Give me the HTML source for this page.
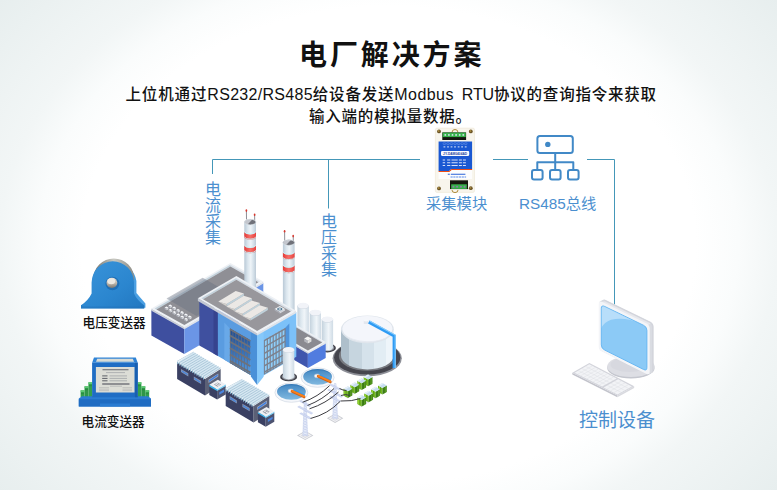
<!DOCTYPE html>
<html lang="zh-CN">
<head>
<meta charset="utf-8">
<title>电厂解决方案</title>
<style>
html,body{margin:0;padding:0;}
body{width:777px;height:490px;overflow:hidden;position:relative;
  font-family:"Liberation Sans","Noto Sans CJK SC",sans-serif;
  background:radial-gradient(ellipse 388.5px 302px at 50% 50%, #ffffff 79%, #fafcfc 90%, #f2f6f6 100%, #e7eeee 129%);}
.abs{position:absolute;white-space:nowrap;}
#title{left:299px;top:36px;font-size:28px;font-weight:700;color:#111;letter-spacing:2.9px;line-height:40px;}
.sub{font-size:15.5px;font-weight:500;color:#111;line-height:22px;letter-spacing:.78px;}
#sub .c1{letter-spacing:.87px;}
#sub .l1{font-size:16px;letter-spacing:.29px;}
#sub .m{font-size:16px;letter-spacing:.45px;}
#sub .sp{letter-spacing:3.6px;}
#sub .r{font-size:16px;letter-spacing:-.12px;}
.blue{color:#4b8fcf;}
.v{width:16px;text-align:center;font-size:16px;line-height:16.1px;white-space:normal;}
.lab{font-size:12.65px;font-weight:500;color:#111;}
svg{position:absolute;left:0;top:0;}
</style>
</head>
<body>
<div id="title" class="abs">电厂解决方案</div>
<div id="sub" class="abs sub" style="left:125.5px;top:84px;"><span id="s1" class="c1">上位机通过</span><span class="l1" id="s2">RS232/RS485</span><span id="s3">给设备发送</span><span class="m" id="s4">Modbus</span><span class="sp"> </span><span class="r" id="s5">RTU</span><span id="s6">协议的查询指令来获取</span></div>
<div id="sub2" class="abs sub" style="left:309px;top:106px;"><span id="s7">输入端的模拟量数据。</span></div>

<svg id="art" width="777" height="490" viewBox="0 0 777 490">
  <!-- connection lines -->
  <g fill="none" stroke="#4497b8" stroke-width="1">
    <path d="M212.5 174V159.5H420"/>
    <path d="M328.5 159.5V208.5"/>
    <path d="M493 159.5H528"/>
    <path d="M587 159.5H614.5V304.5"/>
  </g>
  <!-- bus icon -->
  <g fill="none" stroke="#4189c7" stroke-width="2" stroke-linejoin="round">
    <rect x="537.4" y="136" width="35.4" height="17" rx="2.5"/>
    <path d="M555.2 153V170M537.3 170V162.2H573.3V170"/>
    <rect x="532" y="170" width="10.6" height="9.6" rx="2"/>
    <rect x="550" y="170" width="10.6" height="9.6" rx="2"/>
    <rect x="568" y="170" width="10.6" height="9.6" rx="2"/>
  </g>
  <circle cx="547.8" cy="144.4" r="2.7" fill="#4088c6"/>
<defs>
<linearGradient id="gc" x1="0" x2="1" y1="0" y2="0"><stop offset="0" stop-color="#b9c9d6"/><stop offset=".3" stop-color="#dbe6ee"/><stop offset=".55" stop-color="#eef4f8"/><stop offset=".8" stop-color="#d3dfe8"/><stop offset="1" stop-color="#bccad6"/></linearGradient>
<linearGradient id="gt" x1="0" x2="1" y1="0" y2="0"><stop offset="0" stop-color="#c3d1dc"/><stop offset=".35" stop-color="#dfe9f0"/><stop offset=".6" stop-color="#f0f5f9"/><stop offset="1" stop-color="#cfdbe5"/></linearGradient>
<linearGradient id="gbig" x1="0" x2="1" y1="0" y2="0"><stop offset="0" stop-color="#aebfcb"/><stop offset=".16" stop-color="#aebfcb"/><stop offset=".16" stop-color="#c6d5df"/><stop offset=".4" stop-color="#c6d5df"/><stop offset=".4" stop-color="#d5e2eb"/><stop offset=".62" stop-color="#d5e2eb"/><stop offset=".62" stop-color="#e2edf4"/><stop offset=".85" stop-color="#e2edf4"/><stop offset=".85" stop-color="#eef5fa"/><stop offset="1" stop-color="#eef5fa"/></linearGradient>
<linearGradient id="gpool" x1="0" x2="0" y1="0" y2="1"><stop offset="0" stop-color="#4186c2"/><stop offset="1" stop-color="#80b8df"/></linearGradient>
<linearGradient id="gred" x1="0" x2="1" y1="0" y2="0"><stop offset="0" stop-color="#e63b37"/><stop offset=".5" stop-color="#f5706a"/><stop offset="1" stop-color="#e8423e"/></linearGradient>
<linearGradient id="gscr" x1="0" x2="1" y1="0" y2="1"><stop offset="0" stop-color="#8ecbf6"/><stop offset="1" stop-color="#86c5f4"/></linearGradient>
<linearGradient id="gwin" x1="0" x2="0" y1="0" y2="1"><stop offset="0" stop-color="#1f4a8c"/><stop offset=".5" stop-color="#3570b8"/><stop offset="1" stop-color="#5a9fe2"/></linearGradient>
</defs>
<g id="factory">
<polygon points="151.4,310.1 184.3,328.6 184.3,354.1 151.4,335.6" fill="#3e4f9f"/>
<polygon points="184.3,328.6 263.3,282.9 263.3,308.4 184.3,354.1" fill="#6b95e6"/>
<polygon points="151.4,308.6 184.3,327.1 184.3,329.3 151.4,310.8" fill="#c9ced8"/>
<polygon points="184.3,327.1 263.3,281.4 263.3,283.6 184.3,329.3" fill="#dfe3ea"/>
<polygon points="151.4,308.6 230.4,262.9 263.3,281.4 184.3,327.1" fill="#eef1f5"/>
<polygon points="154.7,308.5 230.4,264.7 230.4,266.6 156.4,309.4" fill="#c3d2dc"/>
<polygon points="230.4,264.7 260.0,281.4 258.4,282.3 230.4,266.6" fill="#d6dee6"/>
<polygon points="156.4,309.4 230.4,266.6 258.4,282.3 184.3,325.1" fill="#8f8f95"/>
<polygon points="200.3,317.6 216.0,288.0 247.0,274.0 232.0,266.0" fill="#a3a2a7" opacity=".0"/>
<polygon points="166.5,298.6 202.6,277.7 232.6,295.0 196.5,315.9" fill="#667080" opacity=".42"/>
<polygon points="164.6,307.6 166.5,306.5 168.4,307.6 166.5,308.7" fill="#f7f8fa"/>
<polygon points="164.6,307.6 166.5,308.7 166.5,310.3 164.6,309.2" fill="#aeb1ba"/>
<polygon points="166.5,308.7 168.4,307.6 168.4,309.2 166.5,310.3" fill="#d8dbe1"/>
<polygon points="168.5,309.9 170.4,308.8 172.3,309.9 170.4,311.0" fill="#f7f8fa"/>
<polygon points="168.5,309.9 170.4,311.0 170.4,312.6 168.5,311.5" fill="#aeb1ba"/>
<polygon points="170.4,311.0 172.3,309.9 172.3,311.5 170.4,312.6" fill="#d8dbe1"/>
<polygon points="172.4,312.1 174.3,311.0 176.2,312.1 174.3,313.2" fill="#f7f8fa"/>
<polygon points="172.4,312.1 174.3,313.2 174.3,314.8 172.4,313.7" fill="#aeb1ba"/>
<polygon points="174.3,313.2 176.2,312.1 176.2,313.7 174.3,314.8" fill="#d8dbe1"/>
<polygon points="176.3,314.4 178.2,313.2 180.1,314.4 178.2,315.5" fill="#f7f8fa"/>
<polygon points="176.3,314.4 178.2,315.5 178.2,317.1 176.3,316.0" fill="#aeb1ba"/>
<polygon points="178.2,315.5 180.1,314.4 180.1,316.0 178.2,317.1" fill="#d8dbe1"/>
<polygon points="180.2,316.6 182.1,315.5 184.0,316.6 182.1,317.7" fill="#f7f8fa"/>
<polygon points="180.2,316.6 182.1,317.7 182.1,319.3 180.2,318.2" fill="#aeb1ba"/>
<polygon points="182.1,317.7 184.0,316.6 184.0,318.2 182.1,319.3" fill="#d8dbe1"/>
<polygon points="184.1,318.9 186.0,317.8 187.9,318.9 186.0,320.0" fill="#f7f8fa"/>
<polygon points="184.1,318.9 186.0,320.0 186.0,321.6 184.1,320.5" fill="#aeb1ba"/>
<polygon points="186.0,320.0 187.9,318.9 187.9,320.5 186.0,321.6" fill="#d8dbe1"/>
<polygon points="168.3,305.5 170.2,304.4 172.1,305.5 170.2,306.6" fill="#f7f8fa"/>
<polygon points="168.3,305.5 170.2,306.6 170.2,308.2 168.3,307.1" fill="#aeb1ba"/>
<polygon points="170.2,306.6 172.1,305.5 172.1,307.1 170.2,308.2" fill="#d8dbe1"/>
<polygon points="172.2,307.7 174.1,306.6 176.0,307.7 174.1,308.8" fill="#f7f8fa"/>
<polygon points="172.2,307.7 174.1,308.8 174.1,310.4 172.2,309.3" fill="#aeb1ba"/>
<polygon points="174.1,308.8 176.0,307.7 176.0,309.3 174.1,310.4" fill="#d8dbe1"/>
<polygon points="176.1,310.0 178.0,308.9 179.9,310.0 178.0,311.1" fill="#f7f8fa"/>
<polygon points="176.1,310.0 178.0,311.1 178.0,312.7 176.1,311.6" fill="#aeb1ba"/>
<polygon points="178.0,311.1 179.9,310.0 179.9,311.6 178.0,312.7" fill="#d8dbe1"/>
<polygon points="180.0,312.2 181.9,311.1 183.8,312.2 181.9,313.3" fill="#f7f8fa"/>
<polygon points="180.0,312.2 181.9,313.3 181.9,314.9 180.0,313.8" fill="#aeb1ba"/>
<polygon points="181.9,313.3 183.8,312.2 183.8,313.8 181.9,314.9" fill="#d8dbe1"/>
<polygon points="183.9,314.5 185.8,313.4 187.7,314.5 185.8,315.6" fill="#f7f8fa"/>
<polygon points="183.9,314.5 185.8,315.6 185.8,317.2 183.9,316.1" fill="#aeb1ba"/>
<polygon points="185.8,315.6 187.7,314.5 187.7,316.1 185.8,317.2" fill="#d8dbe1"/>
<polygon points="187.8,316.7 189.7,315.6 191.6,316.7 189.7,317.8" fill="#f7f8fa"/>
<polygon points="187.8,316.7 189.7,317.8 189.7,319.4 187.8,318.3" fill="#aeb1ba"/>
<polygon points="189.7,317.8 191.6,316.7 191.6,318.3 189.7,319.4" fill="#d8dbe1"/>
<line x1="246.5" y1="219.5" x2="246.4" y2="210.3" stroke="#5d5d68" stroke-width="0.7"/>
<ellipse cx="246.4" cy="210.6" rx="0.85" ry="1.3" fill="#d8382e"/>
<line x1="254.7" y1="220.0" x2="254.6" y2="214.5" stroke="#5d5d68" stroke-width="0.7"/>
<ellipse cx="254.6" cy="214.8" rx="0.85" ry="1.3" fill="#d8382e"/>
<path d="M244.3 222.1 V292.0 H256.0 V222.1 Z" fill="url(#gc)"/>
<path d="M244.3 231.7 A5.8 2.8 0 0 0 256.0 231.7 V237.0 A5.8 2.8 0 0 1 244.3 237.0 Z" fill="url(#gred)"/>
<path d="M244.5 231.7 A5.8 2.8 0 0 0 255.8 231.7" fill="none" stroke="#c9f3f8" stroke-width=".9"/>
<path d="M244.5 237.0 A5.8 2.8 0 0 0 255.8 237.0" fill="none" stroke="#c9f3f8" stroke-width=".9"/>
<path d="M244.3 245.2 A5.8 2.8 0 0 0 256.0 245.2 V250.5 A5.8 2.8 0 0 1 244.3 250.5 Z" fill="url(#gred)"/>
<path d="M244.5 245.2 A5.8 2.8 0 0 0 255.8 245.2" fill="none" stroke="#c9f3f8" stroke-width=".9"/>
<path d="M244.5 250.5 A5.8 2.8 0 0 0 255.8 250.5" fill="none" stroke="#c9f3f8" stroke-width=".9"/>
<ellipse cx="250.2" cy="222.1" rx="5.8" ry="2.8" fill="#6f7179"/>
<path d="M244.6 222.7 A5.8 2.8 0 0 1 252.3 219.5 L247.6 224.6 A5.8 2.8 0 0 1 244.6 222.7 Z" fill="#c3c6cd"/>
<ellipse cx="250.2" cy="222.1" rx="5.8" ry="2.8" fill="none" stroke="#dfe6ec" stroke-width=".7"/>
<line x1="284.7" y1="240.5" x2="284.6" y2="231.0" stroke="#5d5d68" stroke-width="0.7"/>
<ellipse cx="284.6" cy="231.3" rx="0.85" ry="1.3" fill="#d8382e"/>
<line x1="293.3" y1="241.5" x2="293.2" y2="235.8" stroke="#5d5d68" stroke-width="0.7"/>
<ellipse cx="293.2" cy="236.1" rx="0.85" ry="1.3" fill="#d8382e"/>
<path d="M282.9 242.6 V312.0 H294.6 V242.6 Z" fill="url(#gc)"/>
<path d="M282.9 252.3 A5.9 2.8 0 0 0 294.6 252.3 V257.6 A5.9 2.8 0 0 1 282.9 257.6 Z" fill="url(#gred)"/>
<path d="M283.1 252.3 A5.9 2.8 0 0 0 294.4 252.3" fill="none" stroke="#c9f3f8" stroke-width=".9"/>
<path d="M283.1 257.6 A5.9 2.8 0 0 0 294.4 257.6" fill="none" stroke="#c9f3f8" stroke-width=".9"/>
<path d="M282.9 265.2 A5.9 2.8 0 0 0 294.6 265.2 V270.8 A5.9 2.8 0 0 1 282.9 270.8 Z" fill="url(#gred)"/>
<path d="M283.1 265.2 A5.9 2.8 0 0 0 294.4 265.2" fill="none" stroke="#c9f3f8" stroke-width=".9"/>
<path d="M283.1 270.8 A5.9 2.8 0 0 0 294.4 270.8" fill="none" stroke="#c9f3f8" stroke-width=".9"/>
<ellipse cx="288.8" cy="242.6" rx="5.9" ry="2.8" fill="#6f7179"/>
<path d="M283.2 243.2 A5.9 2.8 0 0 1 290.9 240.0 L286.1 245.1 A5.9 2.8 0 0 1 283.2 243.2 Z" fill="#c3c6cd"/>
<ellipse cx="288.8" cy="242.6" rx="5.9" ry="2.8" fill="none" stroke="#dfe6ec" stroke-width=".7"/>
<path d="M297.4 305.7 V334.0 A5.8 2.9 0 0 0 308.9 334.0 V305.7 Z" fill="url(#gt)"/>
<ellipse cx="303.1" cy="306.2" rx="5.8" ry="2.9" fill="#cdd6e0"/>
<ellipse cx="303.1" cy="305.7" rx="5.8" ry="2.9" fill="#f1f3f8"/>
<path d="M309.7 312.6 V341.0 A5.7 2.9 0 0 0 321.0 341.0 V312.6 Z" fill="url(#gt)"/>
<ellipse cx="315.4" cy="313.1" rx="5.7" ry="2.9" fill="#cdd6e0"/>
<ellipse cx="315.4" cy="312.6" rx="5.7" ry="2.9" fill="#f1f3f8"/>
<ellipse cx="327.4" cy="347.9" rx="8.5" ry="4.5" fill="#3f3f47"/>
<ellipse cx="327.4" cy="347.7" rx="6.9" ry="3.6" fill="#8e9098"/>
<path d="M321.7 319.3 V347.6 A5.7 2.9 0 0 0 333.1 347.6 V319.3 Z" fill="url(#gt)"/>
<ellipse cx="327.4" cy="319.8" rx="5.7" ry="2.9" fill="#cdd6e0"/>
<ellipse cx="327.4" cy="319.3" rx="5.7" ry="2.9" fill="#f1f3f8"/>
<polygon points="278.6,336.2 307.9,353.3 307.9,368.1 278.6,351.0" fill="#3f55ad"/>
<polygon points="307.9,353.3 325.7,343.3 325.7,358.1 307.9,368.1" fill="#517cdf"/>
<polygon points="278.6,335.0 307.9,352.1 307.9,353.7 278.6,336.6" fill="#c9ced8"/>
<polygon points="307.9,352.1 325.7,342.1 325.7,343.7 307.9,353.7" fill="#e2e6ec"/>
<polygon points="278.6,335.0 296.4,325.0 325.7,342.1 307.9,352.1" fill="#eef1f5"/>
<polygon points="281.1,335.0 296.4,326.4 296.4,327.5 282.1,335.5" fill="#c3d2dc"/>
<polygon points="296.4,326.4 323.2,342.0 322.2,342.6 296.4,327.5" fill="#d6dee6"/>
<polygon points="282.1,335.5 296.4,327.5 322.2,342.6 307.9,350.6" fill="#8a8a90"/>
<polygon points="304.2,338.6 307.8,336.5 311.4,338.6 307.8,340.7" fill="#f6f6f4"/>
<polygon points="304.2,338.6 307.8,340.7 307.8,343.6 304.2,341.5" fill="#b4b6bc"/>
<polygon points="307.8,340.7 311.4,338.6 311.4,341.5 307.8,343.6" fill="#e6e6e4"/>
<line x1="308.8" y1="341.2" x2="310.6" y2="340.2" stroke="#c9c9c9" stroke-width="0.5"/>
<line x1="308.8" y1="342.2" x2="310.6" y2="341.2" stroke="#c9c9c9" stroke-width="0.5"/>
<polygon points="199.3,300.6 217.9,311.3 217.9,356.1 199.3,345.4" fill="#3f509f"/>
<polygon points="213.5,308.8 217.9,311.3 217.9,356.1 213.5,353.6" fill="#36438e"/>
<polygon points="217.9,311.3 257.1,334.0 257.1,378.8 217.9,356.1" fill="#5a9ce0"/>
<polygon points="257.1,334.5 296.3,311.9 296.3,356.7 257.1,379.3" fill="#7cc1f8"/>
<polygon points="224.3,322.5 230.0,328.4 230.0,363.1 224.3,359.8" fill="#69a9e8"/>
<polygon points="230.0,328.4 250.4,340.2 250.4,374.9 230.0,363.1" fill="url(#gwin)"/>
<g stroke="#71737c" stroke-width=".9">
<line x1="232.9" y1="330.1" x2="232.9" y2="364.8" stroke="#5f6b85" stroke-width="0.8"/>
<line x1="235.8" y1="331.8" x2="235.8" y2="366.5" stroke="#5f6b85" stroke-width="0.8"/>
<line x1="238.7" y1="333.4" x2="238.7" y2="368.1" stroke="#5f6b85" stroke-width="0.8"/>
<line x1="241.5" y1="335.1" x2="241.5" y2="369.8" stroke="#5f6b85" stroke-width="0.8"/>
<line x1="244.4" y1="336.8" x2="244.4" y2="371.5" stroke="#5f6b85" stroke-width="0.8"/>
<line x1="247.3" y1="338.4" x2="247.3" y2="373.1" stroke="#5f6b85" stroke-width="0.8"/>
<line x1="230.0" y1="329.2" x2="250.4" y2="341.0" stroke="#6f7179" stroke-width="1.7"/>
<line x1="230.0" y1="335.5" x2="250.4" y2="347.3" stroke="#6f7179" stroke-width="1.7"/>
<line x1="230.0" y1="341.8" x2="250.4" y2="353.6" stroke="#6f7179" stroke-width="1.7"/>
<line x1="230.0" y1="348.1" x2="250.4" y2="359.9" stroke="#6f7179" stroke-width="1.7"/>
<line x1="230.0" y1="354.4" x2="250.4" y2="366.2" stroke="#6f7179" stroke-width="1.7"/>
<line x1="230.0" y1="360.7" x2="250.4" y2="372.5" stroke="#6f7179" stroke-width="1.7"/>
<line x1="230.3" y1="328.6" x2="230.3" y2="363.3" stroke="#6f7179" stroke-width="0.8"/>
<line x1="230.0" y1="362.6" x2="250.4" y2="374.4" stroke="#6f7179" stroke-width="1.0"/>
</g>
<polygon points="264.3,340.0 285.0,328.1 285.0,362.4 264.3,374.3" fill="#8ecffb"/>
<polygon points="285.0,328.1 289.3,323.4 289.3,360.7 285.0,362.4" fill="#4f94dc"/>
<line x1="264.3" y1="340.0" x2="264.3" y2="374.3" stroke="#787b88" stroke-width="1.1"/>
<line x1="267.3" y1="338.3" x2="267.3" y2="372.6" stroke="#787b88" stroke-width="1.1"/>
<line x1="270.2" y1="336.6" x2="270.2" y2="370.9" stroke="#787b88" stroke-width="1.1"/>
<line x1="273.2" y1="334.9" x2="273.2" y2="369.2" stroke="#787b88" stroke-width="1.1"/>
<line x1="276.1" y1="333.2" x2="276.1" y2="367.5" stroke="#787b88" stroke-width="1.1"/>
<line x1="279.1" y1="331.5" x2="279.1" y2="365.8" stroke="#787b88" stroke-width="1.1"/>
<line x1="282.0" y1="329.8" x2="282.0" y2="364.1" stroke="#787b88" stroke-width="1.1"/>
<line x1="285.0" y1="328.1" x2="285.0" y2="362.4" stroke="#787b88" stroke-width="1.1"/>
<line x1="264.3" y1="340.7" x2="285.0" y2="328.8" stroke="#7d808b" stroke-width="1.4"/>
<line x1="264.3" y1="347.0" x2="285.0" y2="335.1" stroke="#7d808b" stroke-width="1.4"/>
<line x1="264.3" y1="353.3" x2="285.0" y2="341.4" stroke="#7d808b" stroke-width="1.4"/>
<line x1="264.3" y1="359.6" x2="285.0" y2="347.7" stroke="#7d808b" stroke-width="1.4"/>
<line x1="264.3" y1="365.9" x2="285.0" y2="354.0" stroke="#7d808b" stroke-width="1.4"/>
<line x1="264.3" y1="372.2" x2="285.0" y2="360.3" stroke="#7d808b" stroke-width="1.4"/>
<line x1="264.3" y1="373.9" x2="285.0" y2="362.0" stroke="#7d808b" stroke-width="1.0"/>
<polygon points="250.9,330.4 257.1,334.0 257.1,385.1 250.9,376.4" fill="#4a90d8"/>
<polygon points="257.1,334.5 263.6,330.7 263.6,376.7 257.1,385.1" fill="#86c8fa"/>
<polygon points="197.9,298.3 257.1,333.0 257.1,335.6 197.9,300.9" fill="#c3c8d3"/>
<polygon points="257.1,333.0 296.0,310.7 296.0,313.3 257.1,335.6" fill="#dfe3ea"/>
<polygon points="197.9,298.3 236.4,276.0 296.0,310.7 257.1,333.0" fill="#eef1f5"/>
<polygon points="201.4,298.3 236.4,278.0 236.4,279.8 203.0,299.2" fill="#c3d2dc"/>
<polygon points="236.4,278.0 292.5,310.6 290.9,311.5 236.4,279.8" fill="#d6dee6"/>
<polygon points="203.0,299.2 236.4,279.8 290.9,311.5 257.1,330.9" fill="#98979c"/>
<polygon points="226.5,304.1 243.9,293.5 243.9,295.7 226.5,306.3" fill="#bfd1da"/>
<polygon points="218.3,301.6 226.5,304.1 226.5,306.3" fill="#d3d0cc"/>
<polygon points="218.3,301.6 235.7,291.0 243.9,293.5 226.5,304.1" fill="#ebe8e5"/>
<polygon points="234.5,308.9 251.9,298.3 251.9,300.5 234.5,311.1" fill="#bfd1da"/>
<polygon points="226.3,306.4 234.5,308.9 234.5,311.1" fill="#d3d0cc"/>
<polygon points="226.3,306.4 243.7,295.8 251.9,298.3 234.5,308.9" fill="#ebe8e5"/>
<polygon points="242.5,313.7 259.9,303.1 259.9,305.3 242.5,315.9" fill="#bfd1da"/>
<polygon points="234.3,311.2 242.5,313.7 242.5,315.9" fill="#d3d0cc"/>
<polygon points="234.3,311.2 251.7,300.6 259.9,303.1 242.5,313.7" fill="#ebe8e5"/>
<polygon points="250.5,318.4 267.9,307.8 267.9,310.0 250.5,320.6" fill="#bfd1da"/>
<polygon points="242.3,315.9 250.5,318.4 250.5,320.6" fill="#d3d0cc"/>
<polygon points="242.3,315.9 259.7,305.3 267.9,307.8 250.5,318.4" fill="#ebe8e5"/>
<polygon points="274.6,309.0 279.8,306.0 285.0,309.0 279.8,312.0" fill="#f2f3f5"/>
<polygon points="274.6,309.0 279.8,312.0 279.8,313.6 274.6,310.6" fill="#a9acb5"/>
<polygon points="279.8,312.0 285.0,309.0 285.0,310.6 279.8,313.6" fill="#d5d8de"/>
<ellipse cx="279.8" cy="309.0" rx="2.7" ry="1.6" fill="#4f7690"/>
<ellipse cx="279.8" cy="309.0" rx="1.4" ry="0.8" fill="#dfe8ee"/>
<ellipse cx="288.6" cy="376.9" rx="8.5" ry="4.4" fill="#3f3f47"/>
<ellipse cx="288.6" cy="376.7" rx="6.9" ry="3.5" fill="#8e9098"/>
<path d="M282.9 349.7 V376.6 A5.7 2.8 0 0 0 294.3 376.6 V349.7 Z" fill="url(#gt)"/>
<ellipse cx="288.6" cy="350.2" rx="5.7" ry="2.8" fill="#cdd6e0"/>
<ellipse cx="288.6" cy="349.7" rx="5.7" ry="2.8" fill="#f1f3f8"/>
</g>
<g id="machines">
<polygon points="177.1,362.4 205.0,378.9 205.0,395.4 177.1,378.9" fill="#3a4062"/>
<polygon points="205.0,378.9 220.7,368.9 220.7,385.4 205.0,395.4" fill="#5b6076"/>
<polygon points="181.0,368.9 188.3,373.2 188.3,376.4 181.0,372.1" fill="#8f97ad"/>
<polygon points="181.6,369.9 187.7,373.8 187.7,375.6 181.6,371.7" fill="#4c86d8"/>
<polygon points="193.8,376.5 201.1,380.8 201.1,384.0 193.8,379.7" fill="#8f97ad"/>
<polygon points="194.4,377.5 200.5,381.4 200.5,383.2 194.4,379.3" fill="#4c86d8"/>
<polygon points="208.5,379.7 218.3,373.4 218.3,376.6 208.5,382.9" fill="#a5acc0"/>
<polygon points="209.1,380.3 217.7,374.2 217.7,376.0 209.1,382.1" fill="#3f7fe0"/>
<polygon points="177.1,361.4 193.6,352.1 220.7,367.9 205.0,377.9" fill="#d6e7f2"/>
<line x1="177.1" y1="361.4" x2="193.6" y2="352.1" stroke="#9fbfd2" stroke-width="0.75"/>
<polygon points="177.1,361.4 178.3,362.1 178.3,364.1 177.3,364.2" fill="#a9cfe3"/>
<polygon points="177.1,361.4 177.6,361.7 177.7,364.1 177.3,364.2" fill="#6f9db8"/>
<line x1="179.2" y1="362.7" x2="195.7" y2="353.3" stroke="#9fbfd2" stroke-width="0.75"/>
<polygon points="179.2,362.7 180.4,363.4 180.4,365.4 179.4,365.5" fill="#a9cfe3"/>
<polygon points="179.2,362.7 179.7,363.0 179.8,365.4 179.4,365.5" fill="#6f9db8"/>
<line x1="181.4" y1="363.9" x2="197.8" y2="354.5" stroke="#9fbfd2" stroke-width="0.75"/>
<polygon points="181.4,363.9 182.6,364.6 182.6,366.6 181.6,366.7" fill="#a9cfe3"/>
<polygon points="181.4,363.9 181.9,364.2 182.0,366.6 181.6,366.7" fill="#6f9db8"/>
<line x1="183.5" y1="365.2" x2="199.9" y2="355.7" stroke="#9fbfd2" stroke-width="0.75"/>
<polygon points="183.5,365.2 184.7,365.9 184.7,367.9 183.7,368.0" fill="#a9cfe3"/>
<polygon points="183.5,365.2 184.0,365.5 184.1,367.9 183.7,368.0" fill="#6f9db8"/>
<line x1="185.7" y1="366.5" x2="201.9" y2="357.0" stroke="#9fbfd2" stroke-width="0.75"/>
<polygon points="185.7,366.5 186.9,367.2 186.9,369.2 185.9,369.3" fill="#a9cfe3"/>
<polygon points="185.7,366.5 186.2,366.8 186.3,369.2 185.9,369.3" fill="#6f9db8"/>
<line x1="187.8" y1="367.7" x2="204.0" y2="358.2" stroke="#9fbfd2" stroke-width="0.75"/>
<polygon points="187.8,367.7 189.0,368.4 189.0,370.4 188.0,370.5" fill="#a9cfe3"/>
<polygon points="187.8,367.7 188.3,368.0 188.4,370.4 188.0,370.5" fill="#6f9db8"/>
<line x1="190.0" y1="369.0" x2="206.1" y2="359.4" stroke="#9fbfd2" stroke-width="0.75"/>
<polygon points="190.0,369.0 191.2,369.7 191.2,371.7 190.2,371.8" fill="#a9cfe3"/>
<polygon points="190.0,369.0 190.5,369.3 190.6,371.7 190.2,371.8" fill="#6f9db8"/>
<line x1="192.1" y1="370.3" x2="208.2" y2="360.6" stroke="#9fbfd2" stroke-width="0.75"/>
<polygon points="192.1,370.3 193.3,371.0 193.3,373.0 192.3,373.1" fill="#a9cfe3"/>
<polygon points="192.1,370.3 192.6,370.6 192.7,373.0 192.3,373.1" fill="#6f9db8"/>
<line x1="194.3" y1="371.6" x2="210.3" y2="361.8" stroke="#9fbfd2" stroke-width="0.75"/>
<polygon points="194.3,371.6 195.4,372.3 195.4,374.3 194.5,374.4" fill="#a9cfe3"/>
<polygon points="194.3,371.6 194.8,371.9 194.9,374.3 194.5,374.4" fill="#6f9db8"/>
<line x1="196.4" y1="372.8" x2="212.4" y2="363.0" stroke="#9fbfd2" stroke-width="0.75"/>
<polygon points="196.4,372.8 197.6,373.5 197.6,375.5 196.6,375.6" fill="#a9cfe3"/>
<polygon points="196.4,372.8 196.9,373.1 197.0,375.5 196.6,375.6" fill="#6f9db8"/>
<line x1="198.6" y1="374.1" x2="214.4" y2="364.3" stroke="#9fbfd2" stroke-width="0.75"/>
<polygon points="198.6,374.1 199.7,374.8 199.7,376.8 198.8,376.9" fill="#a9cfe3"/>
<polygon points="198.6,374.1 199.1,374.4 199.2,376.8 198.8,376.9" fill="#6f9db8"/>
<line x1="200.7" y1="375.4" x2="216.5" y2="365.5" stroke="#9fbfd2" stroke-width="0.75"/>
<polygon points="200.7,375.4 201.9,376.1 201.9,378.1 200.9,378.2" fill="#a9cfe3"/>
<polygon points="200.7,375.4 201.2,375.7 201.3,378.1 200.9,378.2" fill="#6f9db8"/>
<line x1="202.9" y1="376.6" x2="218.6" y2="366.7" stroke="#9fbfd2" stroke-width="0.75"/>
<polygon points="202.9,376.6 204.0,377.3 204.0,379.3 203.1,379.4" fill="#a9cfe3"/>
<polygon points="202.9,376.6 203.4,376.9 203.5,379.3 203.1,379.4" fill="#6f9db8"/>
<line x1="205.0" y1="377.9" x2="220.7" y2="367.9" stroke="#9fbfd2" stroke-width="0.75"/>
<polygon points="177.1,361.4 193.6,352.1 193.6,352.2 177.9,362.3" fill="#eef5fa"/>
<polygon points="209.3,385.8 217.1,390.3 217.1,399.5 209.3,395.0" fill="#3a4062"/>
<polygon points="217.1,390.3 225.7,385.3 225.7,394.5 217.1,399.5" fill="#4d5370"/>
<polygon points="209.3,384.8 217.1,389.3 217.1,390.9 209.3,386.4" fill="#36b4ee"/>
<polygon points="217.1,389.3 225.7,384.3 225.7,385.9 217.1,390.9" fill="#7fd2f7"/>
<polygon points="209.3,384.8 217.9,379.8 225.7,384.3 217.1,389.3" fill="#eef0f4"/>
<polygon points="213.9,384.6 217.5,382.4 221.1,384.6 217.5,386.7" fill="#9a9ca6"/>
<polygon points="215.1,384.4 217.3,383.1 218.3,383.7 216.1,384.9" fill="#f4f5f7"/>
<polygon points="216.9,385.4 219.1,384.2 220.1,384.8 217.9,386.1" fill="#f4f5f7"/>
<polygon points="219.3,392.2 224.0,389.5 224.0,391.9 219.3,394.7" fill="#4a86e0"/>
<polygon points="225.7,389.6 253.6,406.1 253.6,422.6 225.7,406.1" fill="#3a4062"/>
<polygon points="253.6,406.1 269.3,396.1 269.3,412.6 253.6,422.6" fill="#5b6076"/>
<polygon points="229.6,396.1 236.9,400.4 236.9,403.6 229.6,399.3" fill="#8f97ad"/>
<polygon points="230.2,397.1 236.3,401.0 236.3,402.8 230.2,398.9" fill="#4c86d8"/>
<polygon points="242.4,403.7 249.7,408.0 249.7,411.2 242.4,406.9" fill="#8f97ad"/>
<polygon points="243.0,404.7 249.1,408.6 249.1,410.4 243.0,406.5" fill="#4c86d8"/>
<polygon points="257.1,406.9 266.9,400.6 266.9,403.8 257.1,410.1" fill="#a5acc0"/>
<polygon points="257.7,407.5 266.3,401.4 266.3,403.2 257.7,409.3" fill="#3f7fe0"/>
<polygon points="225.7,388.6 242.2,379.3 269.3,395.1 253.6,405.1" fill="#d6e7f2"/>
<line x1="225.7" y1="388.6" x2="242.2" y2="379.3" stroke="#9fbfd2" stroke-width="0.75"/>
<polygon points="225.7,388.6 226.9,389.3 226.9,391.3 225.9,391.4" fill="#a9cfe3"/>
<polygon points="225.7,388.6 226.2,388.9 226.3,391.3 225.9,391.4" fill="#6f9db8"/>
<line x1="227.8" y1="389.9" x2="244.3" y2="380.5" stroke="#9fbfd2" stroke-width="0.75"/>
<polygon points="227.8,389.9 229.0,390.6 229.0,392.6 228.0,392.7" fill="#a9cfe3"/>
<polygon points="227.8,389.9 228.3,390.2 228.4,392.6 228.0,392.7" fill="#6f9db8"/>
<line x1="230.0" y1="391.1" x2="246.4" y2="381.7" stroke="#9fbfd2" stroke-width="0.75"/>
<polygon points="230.0,391.1 231.2,391.8 231.2,393.8 230.2,393.9" fill="#a9cfe3"/>
<polygon points="230.0,391.1 230.5,391.4 230.6,393.8 230.2,393.9" fill="#6f9db8"/>
<line x1="232.1" y1="392.4" x2="248.5" y2="382.9" stroke="#9fbfd2" stroke-width="0.75"/>
<polygon points="232.1,392.4 233.3,393.1 233.3,395.1 232.3,395.2" fill="#a9cfe3"/>
<polygon points="232.1,392.4 232.6,392.7 232.7,395.1 232.3,395.2" fill="#6f9db8"/>
<line x1="234.3" y1="393.7" x2="250.5" y2="384.2" stroke="#9fbfd2" stroke-width="0.75"/>
<polygon points="234.3,393.7 235.5,394.4 235.5,396.4 234.5,396.5" fill="#a9cfe3"/>
<polygon points="234.3,393.7 234.8,394.0 234.9,396.4 234.5,396.5" fill="#6f9db8"/>
<line x1="236.4" y1="394.9" x2="252.6" y2="385.4" stroke="#9fbfd2" stroke-width="0.75"/>
<polygon points="236.4,394.9 237.6,395.6 237.6,397.6 236.6,397.7" fill="#a9cfe3"/>
<polygon points="236.4,394.9 236.9,395.2 237.0,397.6 236.6,397.7" fill="#6f9db8"/>
<line x1="238.6" y1="396.2" x2="254.7" y2="386.6" stroke="#9fbfd2" stroke-width="0.75"/>
<polygon points="238.6,396.2 239.8,396.9 239.8,398.9 238.8,399.0" fill="#a9cfe3"/>
<polygon points="238.6,396.2 239.1,396.5 239.2,398.9 238.8,399.0" fill="#6f9db8"/>
<line x1="240.7" y1="397.5" x2="256.8" y2="387.8" stroke="#9fbfd2" stroke-width="0.75"/>
<polygon points="240.7,397.5 241.9,398.2 241.9,400.2 240.9,400.3" fill="#a9cfe3"/>
<polygon points="240.7,397.5 241.2,397.8 241.3,400.2 240.9,400.3" fill="#6f9db8"/>
<line x1="242.9" y1="398.8" x2="258.9" y2="389.0" stroke="#9fbfd2" stroke-width="0.75"/>
<polygon points="242.9,398.8 244.0,399.5 244.0,401.5 243.1,401.6" fill="#a9cfe3"/>
<polygon points="242.9,398.8 243.4,399.1 243.5,401.5 243.1,401.6" fill="#6f9db8"/>
<line x1="245.0" y1="400.0" x2="261.0" y2="390.2" stroke="#9fbfd2" stroke-width="0.75"/>
<polygon points="245.0,400.0 246.2,400.7 246.2,402.7 245.2,402.8" fill="#a9cfe3"/>
<polygon points="245.0,400.0 245.5,400.3 245.6,402.7 245.2,402.8" fill="#6f9db8"/>
<line x1="247.2" y1="401.3" x2="263.0" y2="391.5" stroke="#9fbfd2" stroke-width="0.75"/>
<polygon points="247.2,401.3 248.3,402.0 248.3,404.0 247.4,404.1" fill="#a9cfe3"/>
<polygon points="247.2,401.3 247.7,401.6 247.8,404.0 247.4,404.1" fill="#6f9db8"/>
<line x1="249.3" y1="402.6" x2="265.1" y2="392.7" stroke="#9fbfd2" stroke-width="0.75"/>
<polygon points="249.3,402.6 250.5,403.3 250.5,405.3 249.5,405.4" fill="#a9cfe3"/>
<polygon points="249.3,402.6 249.8,402.9 249.9,405.3 249.5,405.4" fill="#6f9db8"/>
<line x1="251.5" y1="403.8" x2="267.2" y2="393.9" stroke="#9fbfd2" stroke-width="0.75"/>
<polygon points="251.5,403.8 252.6,404.5 252.6,406.5 251.7,406.6" fill="#a9cfe3"/>
<polygon points="251.5,403.8 252.0,404.1 252.1,406.5 251.7,406.6" fill="#6f9db8"/>
<line x1="253.6" y1="405.1" x2="269.3" y2="395.1" stroke="#9fbfd2" stroke-width="0.75"/>
<polygon points="225.7,388.6 242.2,379.3 242.2,379.4 226.5,389.5" fill="#eef5fa"/>
<polygon points="257.9,413.0 265.7,417.5 265.7,426.7 257.9,422.2" fill="#3a4062"/>
<polygon points="265.7,417.5 274.3,412.5 274.3,421.7 265.7,426.7" fill="#4d5370"/>
<polygon points="257.9,412.0 265.7,416.5 265.7,418.1 257.9,413.6" fill="#36b4ee"/>
<polygon points="265.7,416.5 274.3,411.5 274.3,413.1 265.7,418.1" fill="#7fd2f7"/>
<polygon points="257.9,412.0 266.5,407.0 274.3,411.5 265.7,416.5" fill="#eef0f4"/>
<polygon points="262.5,411.8 266.1,409.6 269.7,411.8 266.1,413.9" fill="#9a9ca6"/>
<polygon points="263.7,411.6 265.9,410.2 266.9,410.9 264.7,412.1" fill="#f4f5f7"/>
<polygon points="265.5,412.6 267.7,411.4 268.7,411.9 266.5,413.2" fill="#f4f5f7"/>
<polygon points="267.9,419.4 272.6,416.7 272.6,419.1 267.9,421.9" fill="#4a86e0"/>
</g>
<g id="bigtank">
<ellipse cx="367.2" cy="358.3" rx="34.6" ry="18.0" fill="#8e9098"/>
<ellipse cx="367.2" cy="357.6" rx="33.2" ry="17.0" fill="#45454d"/>
<ellipse cx="367.4" cy="356.0" rx="28.6" ry="14.8" fill="#77797f"/>
<path d="M341 329.3 V355.5 A26.4 13.9 0 0 0 393.8 355.5 V329.3 Z" fill="url(#gbig)"/>
<ellipse cx="367.4" cy="329.3" rx="26.4" ry="13.9" fill="#dfe5ec"/>
<ellipse cx="367.4" cy="328.8" rx="25.0" ry="12.9" fill="#f4f6fb"/>
<path d="M344 333 A25 12.9 0 0 0 391.5 333.5 A25 11.5 0 0 1 344 333 Z" fill="#e6eaf1"/>
<polygon points="363.8,320.6 368.2,320.6 368.2,324.0 363.8,324.0" fill="#e3e7ee"/>
<ellipse cx="366.0" cy="320.6" rx="2.2" ry="1.0" fill="#f6f8fb"/>
<path d="M368.8 322 L394.2 335.9 V368" fill="none" stroke="#2e9bf4" stroke-width="3.2" stroke-linejoin="miter"/>
<path d="M369.6 321 L395.2 335.1 V368" fill="none" stroke="#86cbfb" stroke-width="1.1"/>
</g>
<g id="pools">
<ellipse cx="317.6" cy="377.6" rx="16.5" ry="9.7" fill="#f5f7fb" stroke="#d3dae4" stroke-width=".7"/>
<ellipse cx="317.6" cy="376.8" rx="14.4" ry="7.9" fill="url(#gpool)"/>
<path d="M303.2 376.8 A14.4 7.9 0 0 1 332.0 376.8 A14.4 6.6 0 0 0 303.2 376.8 Z" fill="#2f6fae" opacity=".5"/>
<ellipse cx="317.2" cy="375.9" rx="2.9" ry="1.9" fill="#f7f8fa" stroke="#b9c2d0" stroke-width=".6"/>
<path d="M319.8 374.9 L330.6 380.0" stroke="#2f9bf5" stroke-width="1.2" stroke-linecap="round"/>
<path d="M318.2 376.2 L330.2 381.8" stroke="#d95f0e" stroke-width="2.8" stroke-linecap="round"/>
<path d="M318.2 375.8 L330.2 381.4" stroke="#f6821f" stroke-width="1.8" stroke-linecap="round"/>
<ellipse cx="291.4" cy="392.6" rx="16.5" ry="9.7" fill="#f5f7fb" stroke="#d3dae4" stroke-width=".7"/>
<ellipse cx="291.4" cy="391.8" rx="14.4" ry="7.9" fill="url(#gpool)"/>
<path d="M277.0 391.8 A14.4 7.9 0 0 1 305.8 391.8 A14.4 6.6 0 0 0 277.0 391.8 Z" fill="#2f6fae" opacity=".5"/>
<ellipse cx="291.0" cy="390.9" rx="2.9" ry="1.9" fill="#f7f8fa" stroke="#b9c2d0" stroke-width=".6"/>
<path d="M293.6 389.9 L304.4 395.0" stroke="#2f9bf5" stroke-width="1.2" stroke-linecap="round"/>
<path d="M292.0 391.2 L304.0 396.8" stroke="#d95f0e" stroke-width="2.8" stroke-linecap="round"/>
<path d="M292.0 390.8 L304.0 396.4" stroke="#f6821f" stroke-width="1.8" stroke-linecap="round"/>
</g>
<g id="trafos">
<polygon points="343.5,396.0 369.5,379.2 373.5,381.3 347.5,398.6" fill="#e9ebf0"/>
<polygon points="357.5,404.6 383.0,388.0 387.0,390.2 361.5,407.2" fill="#e9ebf0"/>
<polygon points="363.7,377.1 368.1,379.6 368.1,386.2 363.7,383.7" fill="#74b81f"/>
<polygon points="364.7,378.0 365.9,378.7 365.9,384.7 364.7,384.0" fill="#9ddc34"/>
<polygon points="368.1,379.6 372.5,377.1 372.5,383.7 368.1,386.2" fill="#47891a"/>
<line x1="366.1" y1="378.7" x2="366.1" y2="384.9" stroke="#4c8f15" stroke-width="0.7"/>
<line x1="369.6" y1="379.1" x2="369.6" y2="385.1" stroke="#2f6a12" stroke-width="0.7"/>
<line x1="371.1" y1="378.3" x2="371.1" y2="384.3" stroke="#63a626" stroke-width="0.7"/>
<polygon points="363.7,377.1 368.1,374.6 372.5,377.1 368.1,379.6" fill="#c6ddf0"/>
<polygon points="363.7,377.1 368.1,374.6 369.0,375.7 365.3,377.9" fill="#e8f1fa"/>
<polygon points="357.3,380.8 361.7,383.3 361.7,389.9 357.3,387.4" fill="#74b81f"/>
<polygon points="358.3,381.7 359.5,382.4 359.5,388.4 358.3,387.7" fill="#9ddc34"/>
<polygon points="361.7,383.3 366.1,380.8 366.1,387.4 361.7,389.9" fill="#47891a"/>
<line x1="359.7" y1="382.4" x2="359.7" y2="388.6" stroke="#4c8f15" stroke-width="0.7"/>
<line x1="363.2" y1="382.8" x2="363.2" y2="388.8" stroke="#2f6a12" stroke-width="0.7"/>
<line x1="364.7" y1="382.0" x2="364.7" y2="388.0" stroke="#63a626" stroke-width="0.7"/>
<polygon points="357.3,380.8 361.7,378.3 366.1,380.8 361.7,383.3" fill="#c6ddf0"/>
<polygon points="357.3,380.8 361.7,378.3 362.6,379.4 358.9,381.6" fill="#e8f1fa"/>
<polygon points="350.4,384.7 354.8,387.2 354.8,393.8 350.4,391.3" fill="#74b81f"/>
<polygon points="351.4,385.6 352.6,386.3 352.6,392.3 351.4,391.6" fill="#9ddc34"/>
<polygon points="354.8,387.2 359.2,384.7 359.2,391.3 354.8,393.8" fill="#47891a"/>
<line x1="352.8" y1="386.3" x2="352.8" y2="392.5" stroke="#4c8f15" stroke-width="0.7"/>
<line x1="356.3" y1="386.7" x2="356.3" y2="392.7" stroke="#2f6a12" stroke-width="0.7"/>
<line x1="357.8" y1="385.9" x2="357.8" y2="391.9" stroke="#63a626" stroke-width="0.7"/>
<polygon points="350.4,384.7 354.8,382.2 359.2,384.7 354.8,387.2" fill="#c6ddf0"/>
<polygon points="350.4,384.7 354.8,382.2 355.7,383.3 352.0,385.5" fill="#e8f1fa"/>
<polygon points="343.5,388.8 347.9,391.3 347.9,397.9 343.5,395.4" fill="#74b81f"/>
<polygon points="344.5,389.7 345.7,390.4 345.7,396.4 344.5,395.7" fill="#9ddc34"/>
<polygon points="347.9,391.3 352.3,388.8 352.3,395.4 347.9,397.9" fill="#47891a"/>
<line x1="345.9" y1="390.4" x2="345.9" y2="396.6" stroke="#4c8f15" stroke-width="0.7"/>
<line x1="349.4" y1="390.8" x2="349.4" y2="396.8" stroke="#2f6a12" stroke-width="0.7"/>
<line x1="350.9" y1="390.0" x2="350.9" y2="396.0" stroke="#63a626" stroke-width="0.7"/>
<polygon points="343.5,388.8 347.9,386.3 352.3,388.8 347.9,391.3" fill="#c6ddf0"/>
<polygon points="343.5,388.8 347.9,386.3 348.8,387.4 345.1,389.6" fill="#e8f1fa"/>
<polygon points="378.0,385.4 382.4,387.9 382.4,394.5 378.0,392.0" fill="#74b81f"/>
<polygon points="379.0,386.3 380.2,387.0 380.2,393.0 379.0,392.3" fill="#9ddc34"/>
<polygon points="382.4,387.9 386.8,385.4 386.8,392.0 382.4,394.5" fill="#47891a"/>
<line x1="380.4" y1="387.0" x2="380.4" y2="393.2" stroke="#4c8f15" stroke-width="0.7"/>
<line x1="383.9" y1="387.4" x2="383.9" y2="393.4" stroke="#2f6a12" stroke-width="0.7"/>
<line x1="385.4" y1="386.6" x2="385.4" y2="392.6" stroke="#63a626" stroke-width="0.7"/>
<polygon points="378.0,385.4 382.4,382.9 386.8,385.4 382.4,387.9" fill="#c6ddf0"/>
<polygon points="378.0,385.4 382.4,382.9 383.3,384.0 379.6,386.2" fill="#e8f1fa"/>
<polygon points="371.1,389.2 375.5,391.7 375.5,398.3 371.1,395.8" fill="#74b81f"/>
<polygon points="372.1,390.1 373.3,390.8 373.3,396.8 372.1,396.1" fill="#9ddc34"/>
<polygon points="375.5,391.7 379.9,389.2 379.9,395.8 375.5,398.3" fill="#47891a"/>
<line x1="373.5" y1="390.8" x2="373.5" y2="397.0" stroke="#4c8f15" stroke-width="0.7"/>
<line x1="377.0" y1="391.2" x2="377.0" y2="397.2" stroke="#2f6a12" stroke-width="0.7"/>
<line x1="378.5" y1="390.4" x2="378.5" y2="396.4" stroke="#63a626" stroke-width="0.7"/>
<polygon points="371.1,389.2 375.5,386.7 379.9,389.2 375.5,391.7" fill="#c6ddf0"/>
<polygon points="371.1,389.2 375.5,386.7 376.4,387.8 372.7,390.0" fill="#e8f1fa"/>
<polygon points="364.2,393.2 368.6,395.7 368.6,402.3 364.2,399.8" fill="#74b81f"/>
<polygon points="365.2,394.1 366.4,394.8 366.4,400.8 365.2,400.1" fill="#9ddc34"/>
<polygon points="368.6,395.7 373.0,393.2 373.0,399.8 368.6,402.3" fill="#47891a"/>
<line x1="366.6" y1="394.8" x2="366.6" y2="401.0" stroke="#4c8f15" stroke-width="0.7"/>
<line x1="370.1" y1="395.2" x2="370.1" y2="401.2" stroke="#2f6a12" stroke-width="0.7"/>
<line x1="371.6" y1="394.4" x2="371.6" y2="400.4" stroke="#63a626" stroke-width="0.7"/>
<polygon points="364.2,393.2 368.6,390.7 373.0,393.2 368.6,395.7" fill="#c6ddf0"/>
<polygon points="364.2,393.2 368.6,390.7 369.5,391.8 365.8,394.0" fill="#e8f1fa"/>
<polygon points="357.3,397.4 361.7,399.9 361.7,406.5 357.3,404.0" fill="#74b81f"/>
<polygon points="358.3,398.3 359.5,399.0 359.5,405.0 358.3,404.3" fill="#9ddc34"/>
<polygon points="361.7,399.9 366.1,397.4 366.1,404.0 361.7,406.5" fill="#47891a"/>
<line x1="359.7" y1="399.0" x2="359.7" y2="405.2" stroke="#4c8f15" stroke-width="0.7"/>
<line x1="363.2" y1="399.4" x2="363.2" y2="405.4" stroke="#2f6a12" stroke-width="0.7"/>
<line x1="364.7" y1="398.6" x2="364.7" y2="404.6" stroke="#63a626" stroke-width="0.7"/>
<polygon points="357.3,397.4 361.7,394.9 366.1,397.4 361.7,399.9" fill="#c6ddf0"/>
<polygon points="357.3,397.4 361.7,394.9 362.6,396.0 358.9,398.2" fill="#e8f1fa"/>
</g>
<g id="towers">
<polygon points="326.9,418.2 335.1,413.5 343.3,418.2 335.1,422.9" fill="#c9cbd1"/>
<polygon points="328.5,418.2 335.1,414.4 341.7,418.2 335.1,422.0" fill="#f1f1f4"/>
<polygon points="330.7,418.2 335.1,415.7 339.5,418.2 335.1,420.7" fill="#d6d8de"/>
<polygon points="332.1,418.2 335.1,416.5 338.1,418.2 335.1,419.9" fill="#ececf0"/>
<path d="M334.2 383.5 L336.0 383.5 L337.5 418.2 L332.7 418.2 Z" fill="#e7ecf9" stroke="#c2cceb" stroke-width=".5"/>
<line x1="334.0" y1="385.5" x2="336.2" y2="387.5" stroke="#b4c1e6" stroke-width="0.45"/>
<line x1="336.2" y1="385.5" x2="334.0" y2="387.5" stroke="#c3cdea" stroke-width="0.45"/>
<line x1="333.9" y1="388.1" x2="336.3" y2="390.1" stroke="#b4c1e6" stroke-width="0.45"/>
<line x1="336.3" y1="388.1" x2="333.9" y2="390.1" stroke="#c3cdea" stroke-width="0.45"/>
<line x1="333.8" y1="390.7" x2="336.4" y2="392.7" stroke="#b4c1e6" stroke-width="0.45"/>
<line x1="336.4" y1="390.7" x2="333.8" y2="392.7" stroke="#c3cdea" stroke-width="0.45"/>
<line x1="333.7" y1="393.3" x2="336.5" y2="395.3" stroke="#b4c1e6" stroke-width="0.45"/>
<line x1="336.5" y1="393.3" x2="333.7" y2="395.3" stroke="#c3cdea" stroke-width="0.45"/>
<line x1="333.6" y1="395.9" x2="336.6" y2="397.9" stroke="#b4c1e6" stroke-width="0.45"/>
<line x1="336.6" y1="395.9" x2="333.6" y2="397.9" stroke="#c3cdea" stroke-width="0.45"/>
<line x1="333.5" y1="398.5" x2="336.7" y2="400.5" stroke="#b4c1e6" stroke-width="0.45"/>
<line x1="336.7" y1="398.5" x2="333.5" y2="400.5" stroke="#c3cdea" stroke-width="0.45"/>
<line x1="333.3" y1="401.1" x2="336.9" y2="403.1" stroke="#b4c1e6" stroke-width="0.45"/>
<line x1="336.9" y1="401.1" x2="333.3" y2="403.1" stroke="#c3cdea" stroke-width="0.45"/>
<line x1="333.2" y1="403.7" x2="337.0" y2="405.7" stroke="#b4c1e6" stroke-width="0.45"/>
<line x1="337.0" y1="403.7" x2="333.2" y2="405.7" stroke="#c3cdea" stroke-width="0.45"/>
<line x1="333.1" y1="406.3" x2="337.1" y2="408.3" stroke="#b4c1e6" stroke-width="0.45"/>
<line x1="337.1" y1="406.3" x2="333.1" y2="408.3" stroke="#c3cdea" stroke-width="0.45"/>
<line x1="333.0" y1="408.9" x2="337.2" y2="410.9" stroke="#b4c1e6" stroke-width="0.45"/>
<line x1="337.2" y1="408.9" x2="333.0" y2="410.9" stroke="#c3cdea" stroke-width="0.45"/>
<line x1="332.9" y1="411.5" x2="337.3" y2="413.5" stroke="#b4c1e6" stroke-width="0.45"/>
<line x1="337.3" y1="411.5" x2="332.9" y2="413.5" stroke="#c3cdea" stroke-width="0.45"/>
<line x1="332.8" y1="414.1" x2="337.4" y2="416.1" stroke="#b4c1e6" stroke-width="0.45"/>
<line x1="337.4" y1="414.1" x2="332.8" y2="416.1" stroke="#c3cdea" stroke-width="0.45"/>
<line x1="332.7" y1="416.7" x2="337.5" y2="418.7" stroke="#b4c1e6" stroke-width="0.45"/>
<line x1="337.5" y1="416.7" x2="332.7" y2="418.7" stroke="#c3cdea" stroke-width="0.45"/>
<polygon points="329.6,384.9 331.2,384.0 340.6,388.9 339.4,390.2" fill="#d3dbf3" stroke="#b4c0e6" stroke-width=".4"/>
<polygon points="327.6,390.1 329.2,389.2 342.6,396.1 341.4,397.4" fill="#d3dbf3" stroke="#b4c0e6" stroke-width=".4"/>
<polygon points="329.6,396.9 331.2,396.0 340.6,400.9 339.4,402.2" fill="#d3dbf3" stroke="#b4c0e6" stroke-width=".4"/>
<polygon points="297.0,435.4 305.2,430.7 313.4,435.4 305.2,440.1" fill="#c9cbd1"/>
<polygon points="298.6,435.4 305.2,431.6 311.8,435.4 305.2,439.2" fill="#f1f1f4"/>
<polygon points="300.8,435.4 305.2,432.9 309.6,435.4 305.2,437.9" fill="#d6d8de"/>
<polygon points="302.2,435.4 305.2,433.7 308.2,435.4 305.2,437.1" fill="#ececf0"/>
<path d="M304.3 400.5 L306.1 400.5 L307.6 435.4 L302.8 435.4 Z" fill="#e7ecf9" stroke="#c2cceb" stroke-width=".5"/>
<line x1="304.1" y1="402.5" x2="306.3" y2="404.5" stroke="#b4c1e6" stroke-width="0.45"/>
<line x1="306.3" y1="402.5" x2="304.1" y2="404.5" stroke="#c3cdea" stroke-width="0.45"/>
<line x1="304.0" y1="405.1" x2="306.4" y2="407.1" stroke="#b4c1e6" stroke-width="0.45"/>
<line x1="306.4" y1="405.1" x2="304.0" y2="407.1" stroke="#c3cdea" stroke-width="0.45"/>
<line x1="303.9" y1="407.7" x2="306.5" y2="409.7" stroke="#b4c1e6" stroke-width="0.45"/>
<line x1="306.5" y1="407.7" x2="303.9" y2="409.7" stroke="#c3cdea" stroke-width="0.45"/>
<line x1="303.8" y1="410.3" x2="306.6" y2="412.3" stroke="#b4c1e6" stroke-width="0.45"/>
<line x1="306.6" y1="410.3" x2="303.8" y2="412.3" stroke="#c3cdea" stroke-width="0.45"/>
<line x1="303.7" y1="412.9" x2="306.7" y2="414.9" stroke="#b4c1e6" stroke-width="0.45"/>
<line x1="306.7" y1="412.9" x2="303.7" y2="414.9" stroke="#c3cdea" stroke-width="0.45"/>
<line x1="303.6" y1="415.5" x2="306.8" y2="417.5" stroke="#b4c1e6" stroke-width="0.45"/>
<line x1="306.8" y1="415.5" x2="303.6" y2="417.5" stroke="#c3cdea" stroke-width="0.45"/>
<line x1="303.4" y1="418.1" x2="307.0" y2="420.1" stroke="#b4c1e6" stroke-width="0.45"/>
<line x1="307.0" y1="418.1" x2="303.4" y2="420.1" stroke="#c3cdea" stroke-width="0.45"/>
<line x1="303.3" y1="420.7" x2="307.1" y2="422.7" stroke="#b4c1e6" stroke-width="0.45"/>
<line x1="307.1" y1="420.7" x2="303.3" y2="422.7" stroke="#c3cdea" stroke-width="0.45"/>
<line x1="303.2" y1="423.3" x2="307.2" y2="425.3" stroke="#b4c1e6" stroke-width="0.45"/>
<line x1="307.2" y1="423.3" x2="303.2" y2="425.3" stroke="#c3cdea" stroke-width="0.45"/>
<line x1="303.1" y1="425.9" x2="307.3" y2="427.9" stroke="#b4c1e6" stroke-width="0.45"/>
<line x1="307.3" y1="425.9" x2="303.1" y2="427.9" stroke="#c3cdea" stroke-width="0.45"/>
<line x1="303.0" y1="428.5" x2="307.4" y2="430.5" stroke="#b4c1e6" stroke-width="0.45"/>
<line x1="307.4" y1="428.5" x2="303.0" y2="430.5" stroke="#c3cdea" stroke-width="0.45"/>
<line x1="302.9" y1="431.1" x2="307.5" y2="433.1" stroke="#b4c1e6" stroke-width="0.45"/>
<line x1="307.5" y1="431.1" x2="302.9" y2="433.1" stroke="#c3cdea" stroke-width="0.45"/>
<line x1="302.8" y1="433.7" x2="307.6" y2="435.7" stroke="#b4c1e6" stroke-width="0.45"/>
<line x1="307.6" y1="433.7" x2="302.8" y2="435.7" stroke="#c3cdea" stroke-width="0.45"/>
<polygon points="299.7,401.4 301.3,400.6 310.7,405.4 309.5,406.8" fill="#d3dbf3" stroke="#b4c0e6" stroke-width=".4"/>
<polygon points="297.7,406.9 299.3,406.0 312.7,412.9 311.5,414.2" fill="#d3dbf3" stroke="#b4c0e6" stroke-width=".4"/>
<polygon points="299.7,413.6 301.3,412.8 310.7,417.6 309.5,418.9" fill="#d3dbf3" stroke="#b4c0e6" stroke-width=".4"/>
<g fill="none" stroke="#3d3d42" stroke-width="1">
<path d="M302.6 402.3 Q318 397 329.6 385.6"/>
<path d="M307.5 405.5 Q323 399.5 334 388.5"/>
<path d="M309.5 408.8 Q326 403.5 338.5 392.0"/>
<path d="M310.5 418.5 Q328 414 340 401.5"/>
<path d="M339.5 388.5 Q343 390.5 346.5 390.5"/>
<path d="M341 395.5 Q346 393.5 349.5 395.5"/>
<path d="M340.5 401.0 Q352 401.5 360.5 398.5"/>
</g>
</g>
<g id="vsensor">
<defs><linearGradient id="gvs" x1="0" x2="1" y1="0" y2="1"><stop offset="0" stop-color="#3a94da"/><stop offset=".6" stop-color="#2b86cf"/><stop offset="1" stop-color="#2277c0"/></linearGradient><linearGradient id="gmet" x1="0" x2="0" y1="0" y2="1"><stop offset="0" stop-color="#e6e1d8"/><stop offset=".55" stop-color="#bdb6ab"/><stop offset="1" stop-color="#7d7872"/></linearGradient><linearGradient id="grim" x1="0" x2="1" y1="0" y2="0"><stop offset="0" stop-color="#6f6f68"/><stop offset=".5" stop-color="#c9c9c2"/><stop offset="1" stop-color="#8a8a84"/></linearGradient></defs>
<path d="M94.5 281 A21.2 21.4 0 0 1 136.4 281 L136.4 293 L145.4 303.6 L145.4 307.8 L95.5 307.8 Z" fill="#4a9fe2"/>
<path d="M93.2 279.6 A20.6 21.2 0 0 1 134.4 279.6 L132 281 A18 18 0 0 0 96 281 Z" fill="url(#grim)"/>
<path d="M81 308.4 L81 305.3 Q88.5 300 91.6 293.4 L91.6 282.6 A21.2 21.3 0 0 1 134 282.6 L134 293.4 Q137 300 144.2 305.3 L144.2 308.4 Z" fill="url(#gvs)"/>
<path d="M81 305.3 L84 306.4 L144.2 306.4 L144.2 308.4 L81 308.4 Z" fill="#1f70b8" opacity=".5"/>
<ellipse cx="112.4" cy="283.5" rx="7.0" ry="6.8" fill="#1f6fb6"/>
<ellipse cx="111.9" cy="282.8" rx="5.4" ry="5.1" fill="url(#gmet)"/>
<ellipse cx="111.3" cy="281.3" rx="3.9" ry="3.0" fill="#ece8e1"/>
</g>
<g id="itrans">
<polygon points="88.4,382.3 92.3,382.3 92.3,397.2 88.4,397.2" fill="#33a04e"/>
<polygon points="88.4,382.3 92.3,382.3 92.3,383.9 88.4,383.9" fill="#62cf78"/>
<line x1="88.9" y1="385.7" x2="91.8" y2="385.7" stroke="#23803a" stroke-width="0.7"/>
<polygon points="84.5,386.3 88.4,386.3 88.4,397.2 84.5,397.2" fill="#2f9648"/>
<polygon points="84.5,386.3 88.4,386.3 88.4,387.9 84.5,387.9" fill="#62cf78"/>
<line x1="85.0" y1="389.7" x2="87.9" y2="389.7" stroke="#23803a" stroke-width="0.7"/>
<polygon points="80.6,390.3 84.5,390.3 84.5,397.2 80.6,397.2" fill="#33a04e"/>
<polygon points="80.6,390.3 84.5,390.3 84.5,391.9 80.6,391.9" fill="#62cf78"/>
<line x1="81.1" y1="393.7" x2="84.0" y2="393.7" stroke="#23803a" stroke-width="0.7"/>
<polygon points="137.5,382.3 141.4,382.3 141.4,397.2 137.5,397.2" fill="#33a04e"/>
<polygon points="137.5,382.3 141.4,382.3 141.4,383.9 137.5,383.9" fill="#62cf78"/>
<line x1="138.0" y1="385.7" x2="140.9" y2="385.7" stroke="#23803a" stroke-width="0.7"/>
<polygon points="141.4,386.3 145.3,386.3 145.3,397.2 141.4,397.2" fill="#2f9648"/>
<polygon points="141.4,386.3 145.3,386.3 145.3,387.9 141.4,387.9" fill="#62cf78"/>
<line x1="141.9" y1="389.7" x2="144.8" y2="389.7" stroke="#23803a" stroke-width="0.7"/>
<polygon points="145.3,390.3 149.2,390.3 149.2,397.2 145.3,397.2" fill="#33a04e"/>
<polygon points="145.3,390.3 149.2,390.3 149.2,391.9 145.3,391.9" fill="#62cf78"/>
<line x1="145.8" y1="393.7" x2="148.7" y2="393.7" stroke="#23803a" stroke-width="0.7"/>
<polygon points="78.8,398.5 82.0,396.2 148.0,396.2 151.0,398.5 151.0,406.4 78.8,406.4" fill="#2a7cd2"/>
<polygon points="78.8,399.2 151.0,399.2 151.0,406.4 78.8,406.4" fill="#1f6cc2"/>
<polygon points="100.0,403.5 130.0,403.5 130.0,406.4 100.0,406.4" fill="#2a7cd2"/>
<polygon points="94.0,357.6 135.8,357.6 137.7,362.7 92.1,362.7" fill="#2f83d6"/>
<polygon points="97.2,358.8 132.8,358.8 134.0,361.8 96.0,361.8" fill="#d9dcd6"/>
<polygon points="92.1,362.7 137.7,362.7 137.7,397.2 92.1,397.2" fill="#1f6dc4"/>
<polygon points="134.9,362.7 137.7,362.7 137.7,397.2 134.9,397.2" fill="#195fb0"/>
<polygon points="95.9,367.1 134.5,367.1 134.5,392.4 95.9,392.4" fill="#dcddd6"/>
<line x1="102.5" y1="369.7" x2="128.5" y2="369.7" stroke="#75787f" stroke-width="1.2"/>
<line x1="106.0" y1="372.6" x2="125.0" y2="372.6" stroke="#a4a6a8" stroke-width="0.8"/>
<line x1="102.2" y1="375.9" x2="107.5" y2="375.9" stroke="#5d6067" stroke-width="1.0"/>
<line x1="109.5" y1="375.9" x2="127.0" y2="375.9" stroke="#a0a3a6" stroke-width="0.8"/>
<line x1="102.2" y1="378.4" x2="107.5" y2="378.4" stroke="#5d6067" stroke-width="1.0"/>
<line x1="109.5" y1="378.4" x2="127.0" y2="378.4" stroke="#a0a3a6" stroke-width="0.8"/>
<line x1="102.2" y1="380.8" x2="107.5" y2="380.8" stroke="#5d6067" stroke-width="1.0"/>
<line x1="109.5" y1="380.8" x2="127.0" y2="380.8" stroke="#a0a3a6" stroke-width="0.8"/>
<line x1="102.2" y1="384.0" x2="129.5" y2="384.0" stroke="#5a5d65" stroke-width="1.2"/>
<line x1="110.0" y1="386.2" x2="122.0" y2="386.2" stroke="#a4a6a8" stroke-width="0.6"/>
<line x1="99.0" y1="387.6" x2="109.0" y2="387.6" stroke="#a9abac" stroke-width="0.5"/>
<line x1="122.5" y1="387.6" x2="132.0" y2="387.6" stroke="#a9abac" stroke-width="0.5"/>
<line x1="99.0" y1="389.2" x2="109.0" y2="389.2" stroke="#a9abac" stroke-width="0.5"/>
<line x1="122.5" y1="389.2" x2="132.0" y2="389.2" stroke="#a9abac" stroke-width="0.5"/>
<line x1="99.0" y1="390.6" x2="109.0" y2="390.6" stroke="#a9abac" stroke-width="0.5"/>
<line x1="122.5" y1="390.6" x2="132.0" y2="390.6" stroke="#a9abac" stroke-width="0.5"/>
</g>
<g id="module">
<rect x="435.4" y="128.1" width="39.1" height="64.3" rx="1.6" fill="#f8f5ec"/>
<rect x="435.4" y="128.1" width="39.1" height="64.3" rx="1.6" fill="none" stroke="#ece6d4" stroke-width=".6"/>
<path d="M452 132.5 A3 3 0 0 1 458 132.5" fill="none" stroke="#b08d3c" stroke-width="1"/>
<path d="M452 190 A3 2.6 0 0 0 458 190" fill="none" stroke="#b08d3c" stroke-width="1"/>
<circle cx="439.0" cy="131.4" r="1.9" fill="#6a5324"/>
<circle cx="438.7" cy="131.0" r="0.9" fill="#a98a3e"/>
<circle cx="470.8" cy="131.4" r="1.9" fill="#6a5324"/>
<circle cx="470.5" cy="131.0" r="0.9" fill="#a98a3e"/>
<circle cx="439.0" cy="188.4" r="1.9" fill="#6a5324"/>
<circle cx="438.7" cy="188.0" r="0.9" fill="#a98a3e"/>
<circle cx="470.8" cy="188.2" r="1.9" fill="#6a5324"/>
<circle cx="470.5" cy="187.8" r="0.9" fill="#a98a3e"/>
<rect x="442.3" y="132.4" width="23.8" height="7.6" fill="#15160f"/>
<rect x="442.6" y="132.6" width="23.2" height="4.5" fill="#37b24a"/>
<circle cx="445.3" cy="134.9" r="0.95" fill="#d9e4f2"/>
<circle cx="448.9" cy="134.9" r="0.95" fill="#d9e4f2"/>
<circle cx="452.5" cy="134.9" r="0.95" fill="#d9e4f2"/>
<circle cx="456.1" cy="134.9" r="0.95" fill="#d9e4f2"/>
<circle cx="459.7" cy="134.9" r="0.95" fill="#d9e4f2"/>
<circle cx="463.3" cy="134.9" r="0.95" fill="#d9e4f2"/>
<path d="M438.6 141.6 H472.1 V168.9 H451.5 L449 170.9 H438.6 Z" fill="#1a58d2"/>
<path d="M438.6 170.9 H449 L451.5 168.9 H472.1 V170.1 H452 L449.5 172.1 H438.6 Z" fill="#f04e14"/>
<path d="M438.6 172.1 H449.5 L452 170.1 H472.1 V179 H438.6 Z" fill="#fdfdfd"/>
<rect x="443.1" y="142.8" width="2.6" height="1.7" rx=".6" fill="none" stroke="#7fa4ea" stroke-width=".45"/>
<rect x="443.5" y="146.4" width="1.8" height="1" fill="#dfe8fb"/>
<rect x="446.7" y="142.8" width="2.6" height="1.7" rx=".6" fill="none" stroke="#7fa4ea" stroke-width=".45"/>
<rect x="447.1" y="146.4" width="1.8" height="1" fill="#dfe8fb"/>
<rect x="450.2" y="142.8" width="2.6" height="1.7" rx=".6" fill="none" stroke="#7fa4ea" stroke-width=".45"/>
<rect x="450.6" y="146.4" width="1.8" height="1" fill="#dfe8fb"/>
<rect x="453.8" y="142.8" width="2.6" height="1.7" rx=".6" fill="none" stroke="#7fa4ea" stroke-width=".45"/>
<rect x="454.1" y="146.4" width="1.8" height="1" fill="#dfe8fb"/>
<rect x="457.3" y="142.8" width="2.6" height="1.7" rx=".6" fill="none" stroke="#7fa4ea" stroke-width=".45"/>
<rect x="457.7" y="146.4" width="1.8" height="1" fill="#dfe8fb"/>
<rect x="460.9" y="142.8" width="2.6" height="1.7" rx=".6" fill="none" stroke="#7fa4ea" stroke-width=".45"/>
<rect x="461.2" y="146.4" width="1.8" height="1" fill="#dfe8fb"/>
<rect x="464.4" y="142.8" width="2.6" height="1.7" rx=".6" fill="none" stroke="#7fa4ea" stroke-width=".45"/>
<rect x="464.8" y="146.4" width="1.8" height="1" fill="#dfe8fb"/>
<rect x="441" y="151" width="28.2" height="4.9" rx="1.1" fill="#fbfcff"/>
<text x="455.1" y="154.7" font-size="3.4" font-weight="700" text-anchor="middle" fill="#1d3f9e" font-family="Liberation Sans, sans-serif" textLength="24" lengthAdjust="spacingAndGlyphs">JY-DAM0404AD</text>
<path d="M442.7 159.9 h2.4 m2 0 h3.2 m1.2 0 h6.2 m1.2 0 h3 m1 0 h3" stroke="#d5e0fa" stroke-width="1.05" fill="none"/>
<path d="M442.7 162.7 h2.4 m2 0 h3.2 m1.2 0 h6.2 m1.2 0 h3 m1 0 h3" stroke="#d5e0fa" stroke-width="1.05" fill="none"/>
<path d="M442.7 165.4 h2.4 m2 0 h3.2 m1.2 0 h6.2 m1.2 0 h3 m1 0 h3" stroke="#d5e0fa" stroke-width="1.05" fill="none"/>
<path d="M447.8 174.3 h2 m1 0 h14.6" stroke="#2a62d8" stroke-width="1.1" fill="none"/>
<path d="M450.5 176.9 h15.6" stroke="#8fb0f0" stroke-width="1.5" fill="none" stroke-dasharray="2.2 .6"/>
<rect x="450" y="180.3" width="18" height="8.8" fill="#17180f"/>
<rect x="451.2" y="184.3" width="15.6" height="4.6" fill="#37b24a"/>
<circle cx="453.4" cy="186.7" r="1.05" fill="#8d7aa8"/>
<circle cx="457.1" cy="186.7" r="1.05" fill="#8d7aa8"/>
<circle cx="460.9" cy="186.7" r="1.05" fill="#8d7aa8"/>
<circle cx="464.6" cy="186.7" r="1.05" fill="#8d7aa8"/>
</g>
<g id="monitor">
<ellipse cx="630.9" cy="367.9" rx="23.7" ry="10.7" fill="#c4c6ce"/>
<ellipse cx="630.9" cy="366.5" rx="23.7" ry="10.5" fill="#dddee4"/>
<ellipse cx="629.5" cy="364.5" rx="19.0" ry="7.6" fill="#d7d8df"/>
<polygon points="620.0,350.0 640.0,358.0 642.0,366.0 622.0,362.0" fill="#d6d7de"/>
<path d="M602.60 302.03 Q602.60 298.43 606.20 300.17 L650.00 321.41 Q653.60 323.16 653.60 326.76 L653.60 370.05 Q653.60 373.65 650.00 371.85 L606.20 349.95 Q602.60 348.15 602.60 344.55 Z" fill="#d3d5dc"/>
<path d="M602.11 302.26 Q602.11 298.66 605.71 300.41 L649.51 321.65 Q653.11 323.40 653.11 327.00 L653.11 370.29 Q653.11 373.89 649.51 372.09 L605.71 350.19 Q602.11 348.39 602.11 344.79 Z" fill="#d3d5dc"/>
<path d="M601.62 302.50 Q601.62 298.90 605.23 300.65 L649.02 321.89 Q652.62 323.64 652.62 327.24 L652.62 370.52 Q652.62 374.12 649.02 372.32 L605.23 350.43 Q601.62 348.62 601.62 345.02 Z" fill="#d3d5dc"/>
<path d="M601.14 302.74 Q601.14 299.14 604.74 300.88 L648.54 322.13 Q652.14 323.87 652.14 327.47 L652.14 370.76 Q652.14 374.36 648.54 372.56 L604.74 350.66 Q601.14 348.86 601.14 345.26 Z" fill="#dadce2"/>
<path d="M600.65 302.98 Q600.65 299.38 604.25 301.12 L648.05 322.36 Q651.65 324.11 651.65 327.71 L651.65 371.00 Q651.65 374.60 648.05 372.80 L604.25 350.90 Q600.65 349.10 600.65 345.50 Z" fill="#dadce2"/>
<path d="M600.16 303.21 Q600.16 299.61 603.76 301.36 L647.56 322.60 Q651.16 324.35 651.16 327.95 L651.16 371.24 Q651.16 374.84 647.56 373.04 L603.76 351.14 Q600.16 349.34 600.16 345.74 Z" fill="#dadce2"/>
<path d="M599.68 303.45 Q599.68 299.85 603.28 301.60 L647.08 322.84 Q650.68 324.59 650.68 328.19 L650.68 371.47 Q650.68 375.07 647.08 373.27 L603.28 351.38 Q599.68 349.57 599.68 345.97 Z" fill="#dadce2"/>
<path d="M599.19 303.69 Q599.19 300.09 602.79 301.83 L646.59 323.08 Q650.19 324.82 650.19 328.42 L650.19 371.71 Q650.19 375.31 646.59 373.51 L602.79 351.61 Q599.19 349.81 599.19 346.21 Z" fill="#dadce2"/>
<path d="M600.2 304.0 Q601.4 301.4 604.8 301.6 L650.6 323.4 L647.6 325.6 L602.0 304.2 Z" fill="#e7e8ed"/>
<path d="M598.70 303.93 Q598.70 300.33 602.30 302.07 L646.10 323.31 Q649.70 325.06 649.70 328.66 L649.70 371.95 Q649.70 375.55 646.10 373.75 L602.30 351.85 Q598.70 350.05 598.70 346.45 Z" fill="#f4f5f8"/>
<path d="M601.30 308.19 Q601.30 304.79 604.70 306.44 L643.50 325.25 Q646.90 326.90 646.90 330.30 L646.90 367.75 Q646.90 371.15 643.50 369.45 L604.70 350.05 Q601.30 348.35 601.30 344.95 Z" fill="#8ccaf6" stroke="#62b4f2" stroke-width=".9"/>
<clipPath id="scr"><path d="M601.80 308.53 Q601.80 305.53 604.80 306.98 L643.40 325.70 Q646.40 327.16 646.40 330.16 L646.40 367.40 Q646.40 370.40 643.40 368.90 L604.80 349.60 Q601.80 348.10 601.80 345.10 Z"/></clipPath>
<path d="M600 300 L600 331 Q603 322.5 611 319.8 Q624 316.6 640 323.0 L650 329 L650 300 Z" fill="#b8defa" clip-path="url(#scr)"/>
<polygon points="626.0,362.4 633.5,365.5 633.5,366.6 626.0,363.5" fill="#f7f7f9"/>
<polygon points="572.3,372.8 617.4,395.6 617.4,397.2 572.3,374.4" fill="#c2c3cb"/>
<polygon points="617.4,395.6 634.2,386.3 634.2,387.9 617.4,397.2" fill="#d9dadf"/>
<polygon points="572.3,372.8 589.4,363.0 634.2,386.3 617.4,395.6" fill="#d3d4db"/>
<polygon points="574.6,372.7 589.3,364.3 616.7,378.5 602.1,386.6" fill="#f2f3f6"/>
<polygon points="603.6,387.4 618.1,379.2 631.9,386.4 617.4,394.4" fill="#f2f3f6"/>
<line x1="577.7" y1="374.2" x2="592.4" y2="365.8" stroke="#dcdde3" stroke-width="0.45"/>
<line x1="580.7" y1="375.8" x2="595.4" y2="367.4" stroke="#dcdde3" stroke-width="0.45"/>
<line x1="583.8" y1="377.3" x2="598.4" y2="369.0" stroke="#dcdde3" stroke-width="0.45"/>
<line x1="586.8" y1="378.9" x2="601.5" y2="370.6" stroke="#dcdde3" stroke-width="0.45"/>
<line x1="589.9" y1="380.4" x2="604.5" y2="372.2" stroke="#dcdde3" stroke-width="0.45"/>
<line x1="593.0" y1="382.0" x2="607.6" y2="373.7" stroke="#dcdde3" stroke-width="0.45"/>
<line x1="596.0" y1="383.5" x2="610.6" y2="375.3" stroke="#dcdde3" stroke-width="0.45"/>
<line x1="599.1" y1="385.1" x2="613.6" y2="376.9" stroke="#dcdde3" stroke-width="0.45"/>
<line x1="578.3" y1="370.6" x2="605.8" y2="384.6" stroke="#dcdde3" stroke-width="0.45"/>
<line x1="582.0" y1="368.5" x2="609.4" y2="382.5" stroke="#dcdde3" stroke-width="0.45"/>
<line x1="585.6" y1="366.4" x2="613.0" y2="380.5" stroke="#dcdde3" stroke-width="0.45"/>
<line x1="607.1" y1="389.1" x2="621.6" y2="381.0" stroke="#dcdde3" stroke-width="0.45"/>
<line x1="610.5" y1="390.9" x2="625.0" y2="382.8" stroke="#dcdde3" stroke-width="0.45"/>
<line x1="614.0" y1="392.6" x2="628.5" y2="384.6" stroke="#dcdde3" stroke-width="0.45"/>
<line x1="607.2" y1="385.3" x2="621.1" y2="392.4" stroke="#dcdde3" stroke-width="0.45"/>
<line x1="610.9" y1="383.3" x2="624.7" y2="390.4" stroke="#dcdde3" stroke-width="0.45"/>
<line x1="614.5" y1="381.3" x2="628.3" y2="388.4" stroke="#dcdde3" stroke-width="0.45"/>
</g>
</svg>

<div class="abs blue v" style="left:205px;top:182px;">电流采集</div>
<div class="abs blue v" style="left:321px;top:214px;">电压采集</div>
<div class="abs blue" style="left:426px;top:194px;font-size:15.3px;line-height:20px;">采集模块</div>
<div class="abs blue" style="left:519px;top:194px;font-size:15.3px;line-height:20px;">RS485总线</div>
<div class="abs blue" style="left:579px;top:409px;font-size:19px;line-height:24px;">控制设备</div>
<div class="abs lab" style="left:82.5px;top:314px;line-height:18px;">电压变送器</div>
<div class="abs lab" style="left:81.5px;top:413.3px;line-height:18px;">电流变送器</div>
</body>
</html>
